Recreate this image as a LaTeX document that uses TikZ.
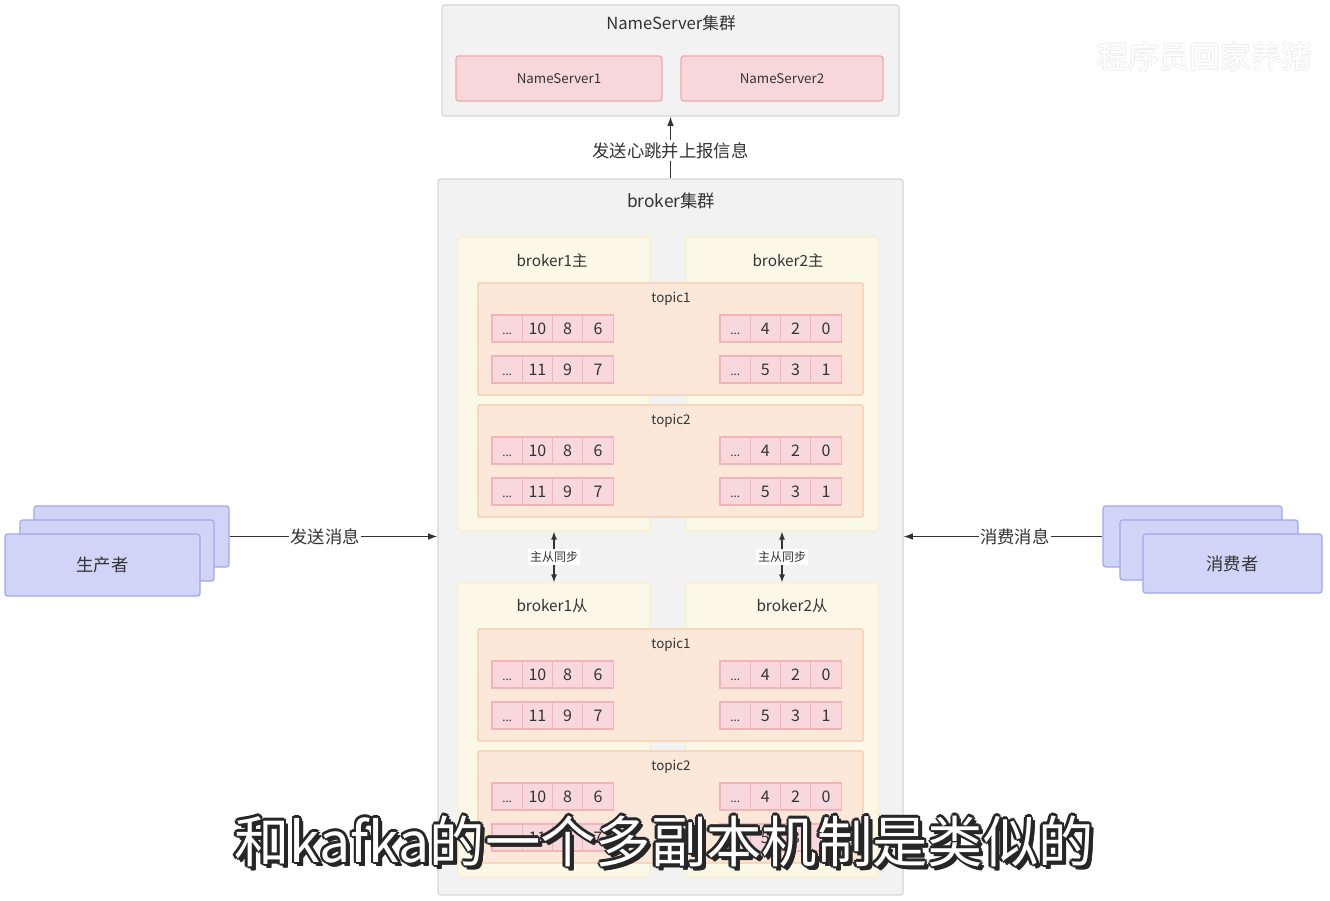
\documentclass[tikz,border=0pt]{standalone}
\usepackage{fontspec}
\setmainfont{Noto Sans CJK SC}
\newfontfamily\latinf{Noto Sans}
\usetikzlibrary{fit,arrows.meta}
\definecolor{txt}{HTML}{333333}
\definecolor{clfill}{HTML}{F2F2F2}
\definecolor{cldraw}{HTML}{D6D6D6}
\definecolor{nsfill}{HTML}{F8D7DA}
\definecolor{nsdraw}{HTML}{F0A9A9}
\definecolor{bkfill}{HTML}{FCF8E8}
\definecolor{bkdraw}{HTML}{F7EFCB}
\definecolor{tpfill}{HTML}{FBE8D9}
\definecolor{tpdraw}{HTML}{F4CBAA}
\definecolor{cefill}{HTML}{F8D8DC}
\definecolor{cedraw}{HTML}{F1B4B9}
\definecolor{pcfill}{HTML}{D0D4F7}
\definecolor{pcdraw}{HTML}{9FA7EE}
\newcommand\bx[6]{\node[#6, fit={(#2,#3) (#4,#5)}, inner sep=0pt] (#1) {};}
\newcommand\myellip{\vphantom{0}{\latinf\fontsize{9pt}{9pt}\selectfont .{}.{}.}}
\newcommand\crow[7]{%
  \node[cellbox, anchor=north west] (#1a) at (#2,#3) {\myellip};
  \node[cellbox, anchor=north west] (#1b) at (#1a.north east) {#5};
  \node[cellbox, anchor=north west] (#1c) at (#1b.north east) {#6};
  \node[cellbox, anchor=north west] (#1d) at (#1c.north east) {#7};}
\tikzset{
  clusterbox/.style={draw=cldraw, fill=clfill, line width=0.9pt, rounded corners=2pt},
  nsbox/.style={draw=nsdraw, fill=nsfill, line width=0.9pt, rounded corners=2pt},
  brokerbox/.style={draw=bkdraw, fill=bkfill, line width=0.9pt, rounded corners=2pt},
  topicbox/.style={draw=tpdraw, fill=tpfill, line width=0.9pt, rounded corners=1pt},
  cellbox/.style={draw=cedraw, fill=cefill, line width=0.8pt, minimum width=22.7pt, minimum height=20.25pt, inner sep=0pt, outer sep=0pt, text=txt, font=\fontsize{12pt}{12pt}\selectfont},
  pcbox/.style={draw=pcdraw, fill=pcfill, line width=0.9pt, rounded corners=2pt},
  lbl/.style={text=txt, inner sep=1pt},
  arr/.style={draw=txt, line width=0.9pt, -{Latex[length=7pt,width=5pt]}},
  darr/.style={draw=txt, line width=0.9pt, {Latex[length=6pt,width=4.5pt]}-{Latex[length=6pt,width=4.5pt]}},
}
\begin{document}
\begin{tikzpicture}[x=0.75pt,y=-0.75pt]
\useasboundingbox (0,0) rectangle (1330,900);
\fill[white] (0,0) rectangle (1330,900);
% NameServer cluster
\bx{ns}{442}{5}{899}{116}{clusterbox}
\node[lbl, font=\fontsize{12.5pt}{12.5pt}\selectfont] (nst) at (671,23) {NameServer集群};
\bx{ns1}{456}{56}{662}{101}{nsbox}
\bx{ns2}{681}{56}{883}{101}{nsbox}
\node[lbl, font=\fontsize{10pt}{10pt}\selectfont] (ns1t) at (ns1.center) {NameServer1};
\node[lbl, font=\fontsize{10pt}{10pt}\selectfont] (ns2t) at (ns2.center) {NameServer2};
% broker cluster
\bx{brk}{438}{179}{903}{895}{clusterbox}
\node[lbl, font=\fontsize{13pt}{13pt}\selectfont] (brkt) at (671,201) {broker集群};
\bx{b1m}{458}{237}{650}{531}{brokerbox}
\bx{b2m}{686}{237}{878}{531}{brokerbox}
\bx{b1s}{458}{583}{650}{877}{brokerbox}
\bx{b2s}{686}{583}{878}{877}{brokerbox}
\node[lbl, font=\fontsize{11.5pt}{11.5pt}\selectfont] (b1mt) at (552,260) {broker1主};
\node[lbl, font=\fontsize{11.5pt}{11.5pt}\selectfont] (b2mt) at (788,260) {broker2主};
\node[lbl, font=\fontsize{11.5pt}{11.5pt}\selectfont] (b1st) at (552,606) {broker1从};
\node[lbl, font=\fontsize{11.5pt}{11.5pt}\selectfont] (b2st) at (792,606) {broker2从};
% topics
\foreach \tn/\ty/\lab in {mA/283/topic1, mB/405/topic2, sA/629/topic1, sB/751/topic2}{
  \bx{\tn}{478}{\ty}{863}{\ty+112}{topicbox}
  \node[lbl, font=\fontsize{10pt}{10pt}\selectfont] (\tn t) at (671,\ty+16) {\lab};
  \crow{\tn LA}{492}{\ty+32}{}{10}{8}{6}
  \crow{\tn LB}{492}{\ty+73}{}{11}{9}{7}
  \crow{\tn RA}{720}{\ty+32}{}{4}{2}{0}
  \crow{\tn RB}{720}{\ty+73}{}{5}{3}{1}
}
% producer / consumer
\bx{p3}{34}{506}{229}{567}{pcbox}
\bx{p2}{20}{520}{214}{581}{pcbox}
\bx{p1}{5}{534}{200}{596}{pcbox}
\node[lbl, font=\fontsize{13pt}{13pt}\selectfont] (pt) at (p1.center) {生产者};
\bx{c3}{1103}{506}{1282}{567}{pcbox}
\bx{c2}{1120}{520}{1298}{580}{pcbox}
\bx{c1}{1143}{534}{1322}{593}{pcbox}
\node[lbl, font=\fontsize{13pt}{13pt}\selectfont] (ct) at (c1.center) {消费者};
% connectors
\draw[arr] (brk.north) -- node[fill=white, lbl, pos=0.45, inner sep=2pt, font=\fontsize{13pt}{13pt}\selectfont] (hb) {发送心跳并上报信息} (ns.south);
\draw[arr] (p3.east) -- node[fill=white, lbl, pos=0.46, font=\fontsize{13pt}{13pt}\selectfont] (sm) {发送消息} (brk.west |- p3.east);
\draw[arr] (c3.west) -- node[fill=white, lbl, pos=0.44, font=\fontsize{13pt}{13pt}\selectfont] (cm) {消费消息} (brk.east |- c3.west);
\draw[darr] (b1m.south) -- node[fill=white, lbl, inner sep=1.5pt, font=\fontsize{9pt}{9pt}\selectfont] (sy1) {主从同步} (b1s.north);
\draw[darr] (b2m.south) -- node[fill=white, lbl, inner sep=1.5pt, font=\fontsize{9pt}{9pt}\selectfont] (sy2) {主从同步} (b2s.north);
% watermark
\foreach \dx/\dy in {-0.8/0,0.8/0,0/-0.8,0/0.8}{
  \node[text=black!7, font=\fontsize{23pt}{23pt}\selectfont] at (1205+\dx,57+\dy) {程序员回家养猪};}
\node[text=white, font=\fontsize{23pt}{23pt}\selectfont] (wm) at (1205,57) {程序员回家养猪};
% subtitle
\foreach \dx/\dy in {-2.5/0,2.5/0,0/-2.5,0/2.5,-1.8/-1.8,1.8/1.8,-1.8/1.8,1.8/-1.8,4/4,3/4,4/3,3.5/3.5}{
  \node[text=black!85, font=\fontsize{41.5pt}{41.5pt}\selectfont] at (664+\dx,841+\dy) {和kafka的一个多副本机制是类似的};}
\node[text=white, font=\fontsize{41.5pt}{41.5pt}\selectfont] (sub) at (664,841) {和kafka的一个多副本机制是类似的};
\end{tikzpicture}
\end{document}
